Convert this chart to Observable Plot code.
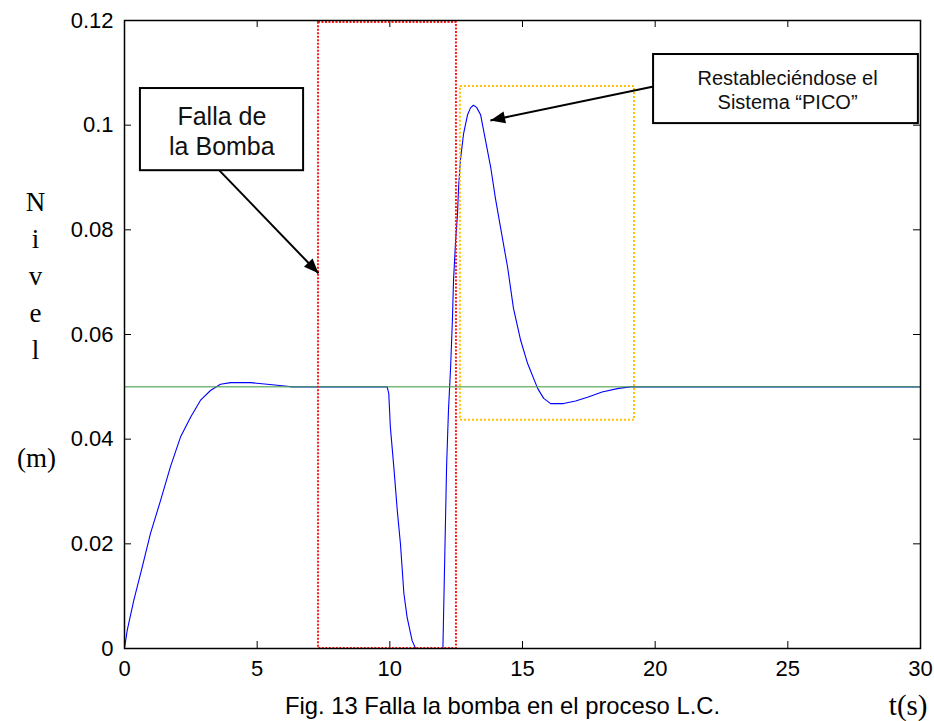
<!DOCTYPE html>
<html>
<head>
<meta charset="utf-8">
<script src="https://cdn.jsdelivr.net/npm/d3@7"></script>
<script src="https://cdn.jsdelivr.net/npm/@observablehq/plot@0.6"></script>
<style>
  html, body { margin: 0; padding: 0; background: white; }
</style>
</head>
<body>
<div id="chart"></div>
<script>
// Time (s)
const tValues = [0, 0.1, 0.35, 0.67, 0.98, 1.36, 1.73, 2.11, 2.49, 2.86, 3.24, 3.62, 4.0, 4.75, 5.38, 6.13, 6.3,
  9.9, 9.96, 10.02, 10.15, 10.28, 10.4, 10.53, 10.65, 10.84, 10.97,
  12.0, 12.14, 12.21, 12.29, 12.36, 12.40, 12.48, 12.55, 12.59, 12.66, 12.78, 12.93, 13.04, 13.15, 13.27, 13.42, 13.61,
  13.80, 13.98, 14.17, 14.44, 14.66, 14.93, 15.19, 15.57, 15.8, 16.06, 16.55, 17.0, 17.45, 18.0, 18.62, 19.07, 30];
// Nivel (m)
const levelValues = [0, 0.0034, 0.0092, 0.0156, 0.022, 0.0283, 0.0347, 0.0404, 0.0442, 0.0474, 0.0493, 0.0505, 0.0508, 0.0508, 0.0505, 0.0501, 0.05,
  0.05, 0.0487, 0.0423, 0.0347, 0.0264, 0.020, 0.0105, 0.006, 0.0015, 0,
  0, 0.035, 0.0455, 0.0537, 0.063, 0.0703, 0.078, 0.083, 0.088, 0.0933, 0.0984, 0.102, 0.1033, 0.1038, 0.1034, 0.102, 0.097,
  0.092, 0.086, 0.0805, 0.0728, 0.065, 0.0589, 0.0545, 0.0497, 0.0478, 0.0468, 0.0468, 0.0473, 0.048, 0.049, 0.0497, 0.05, 0.05];
const setpoint = [0.05];

const xTicks = [0, 5, 10, 15, 20, 25, 30];
const yTicks = [0, 0.02, 0.04, 0.06, 0.08, 0.1, 0.12];

// Annotation regions (data coordinates)
const failRegion = [{t1: 7.31, t2: 12.51, v1: 0, v2: 0.1196}];
const peakRegion = [{t1: 12.66, t2: 19.22, v1: 0.0436, v2: 0.1074}];
const noteBoxes = [
  {t1: 0.60, t2: 6.75, v1: 0.0913, v2: 0.1070, tc: 3.67, vc: 0.0990, text: "Falla de\nla Bomba"},
  {t1: 19.94, t2: 29.92, v1: 0.1003, v2: 0.1135, tc: 24.99, vc: 0.1069, text: "Restableciéndose el\nSistema “PICO”"}
];
const arrows = [
  {t1: 3.51, v1: 0.0917, t2: 7.31, v2: 0.0717},
  {t1: 19.94, v1: 0.1074, t2: 13.79, v2: 0.1009}
];

const series = tValues.map((t, i) => ({t, v: levelValues[i]}));

const W = 934, H = 721, mL = 124, mR = 14, mT = 20, mB = 73;
const frameH = H - mT - mB, frameW = W - mL - mR;
const tick = 7;
const serif = "'Liberation Serif', 'Times New Roman', serif";

const chart = Plot.plot({
  width: W, height: H,
  marginLeft: mL, marginRight: mR, marginTop: mT, marginBottom: mB,
  x: {domain: [0, 30]},
  y: {domain: [0, 0.12]},
  style: {fontFamily: "'Liberation Sans', Arial, sans-serif", fontSize: "22px", background: "white", color: "black"},
  marks: [
    Plot.axisX({ticks: xTicks, tickSize: 0, tickPadding: 12, tickFormat: d => String(d), label: null, fontSize: 22}),
    Plot.axisY({ticks: yTicks, tickSize: 0, tickPadding: 11, tickFormat: d => String(d), label: null, fontSize: 22}),
    // inward ticks on all sides
    Plot.tickX(xTicks, {x: d => d, insetTop: frameH - tick, stroke: "black"}),
    Plot.tickX(xTicks, {x: d => d, insetBottom: frameH - tick, stroke: "black"}),
    Plot.tickY(yTicks, {y: d => d, insetRight: frameW - tick, stroke: "black"}),
    Plot.tickY(yTicks, {y: d => d, insetLeft: frameW - tick, stroke: "black"}),
    Plot.line(series, {x: "t", y: "v", stroke: "#0000ff", strokeWidth: 1.1}),
    Plot.ruleY(setpoint, {y: d => d, stroke: "#4fa04f", strokeWidth: 1.5, strokeOpacity: 0.75}),
    Plot.rect(failRegion, {x1: "t1", x2: "t2", y1: "v1", y2: "v2", fill: "none", stroke: "#ff1a1a", strokeWidth: 2, strokeDasharray: "2,1.5"}),
    Plot.rect(peakRegion, {x1: "t1", x2: "t2", y1: "v1", y2: "v2", fill: "none", stroke: "#ffc000", strokeWidth: 2, strokeDasharray: "2,2"}),
    Plot.frame({stroke: "black", strokeWidth: 1.5}),
    Plot.link(arrows, {x1: "t1", y1: "v1", x2: "t2", y2: "v2", stroke: "black", strokeWidth: 2, markerEnd: "arrow"}),
    Plot.rect(noteBoxes, {x1: "t1", x2: "t2", y1: "v1", y2: "v2", fill: "white", stroke: "black", strokeWidth: 2}),
    Plot.text(noteBoxes.slice(0, 1), {x: "tc", y: "vc", text: "text", fontSize: 25, lineHeight: 1.2, fill: "#111"}),
    Plot.text(noteBoxes.slice(1), {x: "tc", y: "vc", text: "text", fontSize: 20, lineHeight: 1.22, fill: "#111"}),
    // axis titles and caption
    Plot.text(["N\ni\nv\ne\nl"], {text: d => d, frameAnchor: "left", textAnchor: "middle", lineAnchor: "middle", dx: -89, dy: -61, fontFamily: serif, fontSize: 27, lineHeight: 1.37}),
    Plot.text(["(m)"], {text: d => d, frameAnchor: "left", textAnchor: "middle", lineAnchor: "middle", dx: -88, dy: 124, fontFamily: serif, fontSize: 27}),
    Plot.text(["Fig. 13 Falla la bomba en el proceso L.C."], {text: d => d, frameAnchor: "bottom", textAnchor: "middle", lineAnchor: "middle", dx: -20, dy: 58, fontSize: 23.8}),
    Plot.text(["t(s)"], {text: d => d, frameAnchor: "bottom-right", textAnchor: "end", lineAnchor: "middle", dx: 7, dy: 57, fontFamily: serif, fontSize: 29})
  ]
});

// filled arrowheads
chart.querySelectorAll("marker").forEach(m => {
  m.setAttribute("overflow", "visible");
  m.querySelectorAll("path").forEach(p => {
    p.setAttribute("d", "M-11,-4.5L0,0L-11,4.5Z");
    p.setAttribute("fill", "black");
    p.setAttribute("stroke", "none");
  });
});

document.getElementById("chart").appendChild(chart);
</script>
</body>
</html>
